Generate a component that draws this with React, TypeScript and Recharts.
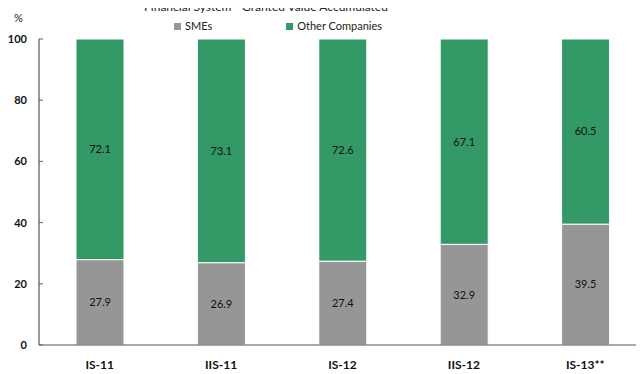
import { BarChart, Bar, XAxis, YAxis, LabelList } from "recharts";

const periods = ["IS-11", "IIS-11", "IS-12", "IIS-12", "IS-13**"];
const smes = [27.9, 26.9, 27.4, 32.9, 39.5];
const others = [72.1, 73.1, 72.6, 67.1, 60.5];
const yTicks = [0, 20, 40, 60, 80, 100];

const rows = periods.map((p, i) => ({ period: p, smes: smes[i], others: others[i] }));

const font = "Lato, 'DejaVu Sans', sans-serif";
const GRAY = "#969696";
const GREEN = "#339966";

function LegendItem({ color, label }: { color: string; label: string }) {
  return (
    <span style={{ display: "inline-flex", alignItems: "center", marginRight: 74 }}>
      <span style={{ width: 7, height: 7, background: color, marginRight: 4 }} />
      {label}
    </span>
  );
}

// y tick with a short inward mark, like the original
function YTick(props: any) {
  const { x, y, payload } = props;
  const axisX = x + 12;
  return (
    <g>
      <line x1={axisX} x2={axisX + 4} y1={y} y2={y} stroke="#666" />
      <text x={x} y={y} dy={4} textAnchor="end" fontSize={11} fontWeight={700} fill="#111">
        {payload.value}
      </text>
    </g>
  );
}

export default function App() {
  return (
    <div style={{ position: "relative", margin: "-8px 0 0 -8px", width: 670, height: 374, fontFamily: font }}>
      <BarChart
        width={670}
        height={374}
        data={rows}
        margin={{ top: 39, right: 24, bottom: 0, left: 0 }}
        barSize={48}
      >
        <XAxis
          dataKey="period"
          height={29}
          tickLine={false}
          axisLine={{ stroke: "#555" }}
          tick={{ fontSize: 12, fontWeight: 700, fill: "#111" }}
          tickMargin={9}
        />
        <YAxis
          domain={[0, 100]}
          ticks={yTicks}
          width={39}
          tickLine={false}
          tickSize={6}
          axisLine={{ stroke: "#333" }}
          tick={<YTick />}
          tickMargin={6}
        />
        <Bar dataKey="smes" name="SMEs" stackId="a" fill={GRAY} stroke="#fff" strokeWidth={1} isAnimationActive={false}>
          <LabelList dataKey="smes" position="center" fill="#111" fontSize={11} />
        </Bar>
        <Bar dataKey="others" name="Other Companies" stackId="a" fill={GREEN} stroke="#fff" strokeWidth={1} isAnimationActive={false}>
          <LabelList dataKey="others" position="center" fill="#111" fontSize={11} />
        </Bar>
      </BarChart>
      <div
        style={{
          position: "absolute",
          top: 0,
          left: 0,
          width: 532,
          textAlign: "center",
          fontSize: 12,
          lineHeight: "13px",
          color: "#222",
        }}
      >
        Financial System - Granted Value Accumulated
      </div>
      <div style={{ position: "absolute", top: 11, left: 14, fontSize: 11, color: "#222" }}>%</div>
      <div
        style={{
          position: "absolute",
          top: 19,
          left: 174,
          fontSize: 11,
          lineHeight: "14px",
          color: "#222",
          display: "flex",
        }}
      >
        <LegendItem color={GRAY} label="SMEs" />
        <LegendItem color={GREEN} label="Other Companies" />
      </div>
    </div>
  );
}
